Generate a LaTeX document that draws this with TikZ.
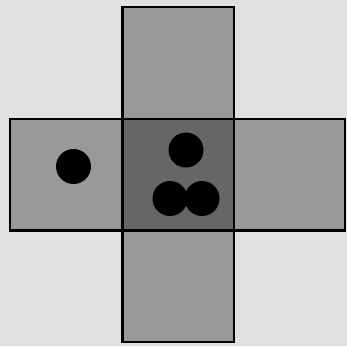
\documentclass[tikz,border=0pt]{standalone}
\definecolor{bg}{HTML}{E0E0E0}
\definecolor{arm}{HTML}{999999}
\definecolor{mid}{HTML}{666666}
\begin{document}
\begin{tikzpicture}[x=1pt,y=-1pt,
  cell/.style={draw=black,line width=2.6pt,fill=arm},
  dot/.style={circle,fill=black,inner sep=0pt,minimum size=35pt}]
\fill[bg] (0,0) rectangle (347,346);
\useasboundingbox (0,0) rectangle (347,346);
\draw[cell] (122.5,7) rectangle (234,119);
\draw[cell] (122.5,230.5) rectangle (234,342);
\draw[cell] (10,119) rectangle (122.5,230.5);
\draw[cell] (234,119) rectangle (345,230.5);
\draw[cell,fill=mid] (122.5,119) rectangle (234,230.5);
\node[dot] (d1) at (73.5,166.5) {};
\node[dot] (d2) at (186,150) {};
\node[dot] (d3) at (170,198.5) {};
\node[dot] (d4) at (202,198.5) {};
\end{tikzpicture}
\end{document}
